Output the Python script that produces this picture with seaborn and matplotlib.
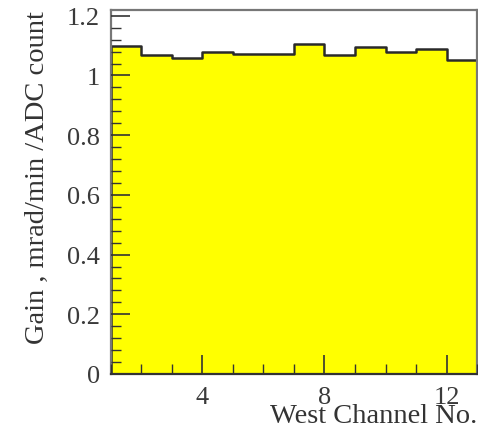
import numpy as np
import pandas as pd
import matplotlib
matplotlib.use('Agg')
import matplotlib.pyplot as plt
import seaborn as sns
from matplotlib.ticker import MultipleLocator

# gain per west channel
channels = [1, 2, 3, 4, 5, 6, 7, 8, 9, 10, 11, 12]
gains = [1.098, 1.068, 1.057, 1.077, 1.071, 1.071, 1.106, 1.069, 1.096, 1.080, 1.087, 1.051]
bin_edges = list(range(1, 14))

sns.set_style('ticks')
plt.rcParams['font.family'] = ['Liberation Serif', 'DejaVu Serif']

df = pd.DataFrame({'channel': channels, 'gain': gains})

fig = plt.figure(figsize=(4.78, 4.31), dpi=100)
ax = fig.add_axes([0.232, 0.130, 0.766, 0.845])

sns.histplot(data=df, x='channel', weights='gain', bins=bin_edges,
             element='step', fill=True, alpha=1, facecolor='#ffff00',
             edgecolor='#2a2a2a', linewidth=1.8, ax=ax)
ax.set_axisbelow(False)

ax.set_xlim(1, 13)
ax.set_ylim(0, 1.22)

ax.xaxis.set_major_locator(MultipleLocator(4))
ax.xaxis.set_minor_locator(MultipleLocator(1))
ax.yaxis.set_major_locator(MultipleLocator(0.2))
ax.yaxis.set_minor_locator(MultipleLocator(0.04))
ax.yaxis.set_major_formatter(plt.FuncFormatter(lambda v, p: f'{v:g}'))

ax.tick_params(which='major', direction='in', length=14, width=1.2,
               color='#333333', labelsize=19, labelcolor='#3a3a3a')
ax.tick_params(which='minor', direction='in', length=7, width=1.0,
               color='#333333')
ax.tick_params(axis='x', which='both', top=False, pad=9)
ax.tick_params(axis='y', which='both', right=False, pad=8)

for s in ax.spines.values():
    s.set_color('#777777')
    s.set_linewidth(1.6)
ax.spines['bottom'].set_color('#333333')

ax.set_xlabel('West Channel No.', fontsize=20.5, color='#333333',
              loc='right', labelpad=-4)
ax.set_ylabel('Gain , mrad/min /ADC count', fontsize=20.5, color='#333333',
              loc='top', labelpad=12)

fig.savefig('out.png', dpi=100)
